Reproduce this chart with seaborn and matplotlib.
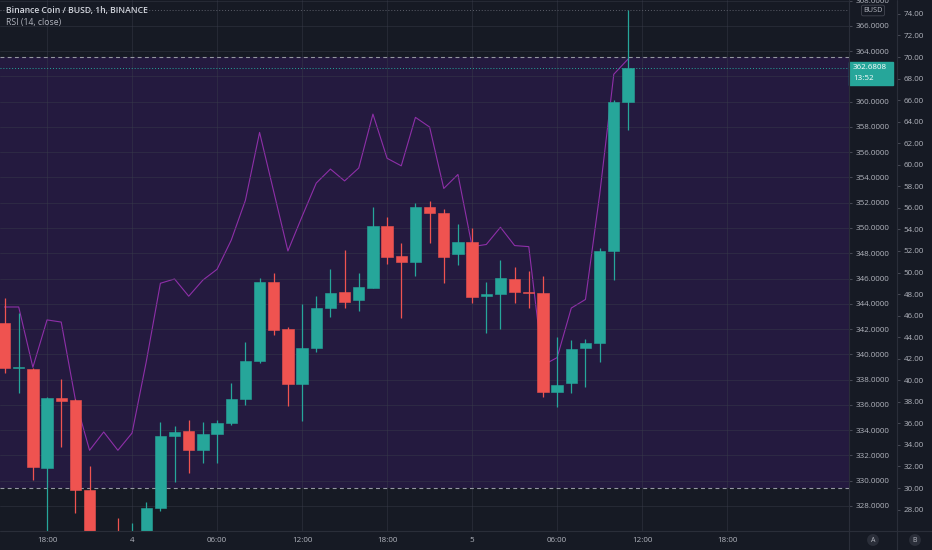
import numpy as np
import pandas as pd
import matplotlib
matplotlib.use("Agg")
import matplotlib.pyplot as plt
import seaborn as sns
from matplotlib.lines import Line2D
from matplotlib.patches import Rectangle
from matplotlib.ticker import MultipleLocator, FormatStrFormatter, FuncFormatter

# hourly candles, hour 0 = 18:00 on the 3rd
hours = list(range(-3, 42))

opens = [342.47, 338.90, 338.82, 330.98, 336.53, 336.37, 329.24, 324.60, 325.30, 324.70,
         325.40, 327.81, 333.52, 333.91, 332.41, 333.67, 334.55, 336.45, 339.46, 345.71,
         341.99, 337.63, 340.49, 343.65, 344.92, 344.29, 345.24, 350.15, 347.77, 347.30,
         351.65, 351.18, 347.93, 348.88, 344.60, 344.76, 345.95, 344.92, 344.84, 337.00,
         337.71, 340.49, 340.88, 348.17, 359.97]
highs = [344.45, 343.26, 338.90, 336.60, 338.03, 336.50, 331.16, 325.70, 327.02, 326.62,
         328.29, 334.63, 334.31, 334.78, 334.63, 334.78, 337.71, 340.96, 346.03, 346.43,
         342.15, 343.97, 344.60, 346.74, 348.25, 346.43, 351.65, 350.86, 348.80, 351.97,
         352.13, 351.50, 350.31, 349.99, 345.71, 347.46, 346.90, 346.58, 346.19, 341.36,
         341.12, 341.20, 348.41, 360.10, 367.26]
lows = [338.50, 336.92, 330.03, 325.40, 332.64, 327.42, 324.00, 323.90, 324.30, 324.20,
        325.00, 327.60, 329.87, 330.58, 331.38, 331.38, 334.39, 335.97, 339.30, 341.52,
        335.89, 334.70, 340.17, 342.94, 343.65, 343.42, 345.24, 347.14, 342.86, 346.19,
        348.80, 345.63, 347.06, 344.05, 341.67, 341.99, 344.05, 343.65, 336.60, 335.81,
        336.92, 337.40, 339.38, 345.87, 357.75]
closes = [338.90, 338.98, 331.06, 336.53, 336.29, 329.24, 324.60, 325.30, 324.70, 325.40,
          327.81, 333.52, 333.83, 332.41, 333.67, 334.55, 336.45, 339.46, 345.71, 341.91,
          337.63, 340.49, 343.65, 344.84, 344.13, 345.32, 350.15, 347.69, 347.30, 351.65,
          351.18, 347.69, 348.88, 344.53, 344.76, 346.03, 344.92, 344.84, 337.00, 337.55,
          340.41, 340.88, 348.17, 359.97, 362.6808]
rsi = [46.8, 46.8, 41.2, 45.6, 45.4, 38.2, 33.5, 35.2, 33.5, 35.1,
       41.7, 49.0, 49.4, 47.8, 49.3, 50.3, 53.0, 56.7, 63.0, 57.5,
       52.0, 55.2, 58.3, 59.6, 58.5, 59.7, 64.7, 60.6, 59.9, 64.4,
       63.5, 57.8, 59.1, 52.4, 52.6, 54.2, 52.5, 52.4, 41.4, 42.1,
       46.7, 47.5, 57.2, 68.4, 69.8]

time_ticks = [0, 6, 12, 18, 24, 30, 36, 42, 48]
time_labels = ["18:00", "4", "06:00", "12:00", "18:00", "5", "06:00", "12:00", "18:00"]
last_price = 362.6808
countdown = "13:52"

sns.set_style("dark")
plt.rcParams['font.family'] = ['Open Sans', 'DejaVu Sans']

W, H = 932, 550
BG = "#161a24"
BAND = "#241a3f"
UP = "#26a69a"
DOWN = "#ef5350"
RSI_C = "#8e2fa8"
TEXT = "#b2b5be"
GRID = "#3a3e4c"
SEP = "#2a2e39"
TICK = "#50535e"

df = pd.DataFrame({"hour": hours, "open": opens, "high": highs,
                   "low": lows, "close": closes, "rsi": rsi})
cols = np.where(df["close"] >= df["open"], UP, DOWN)

fig = plt.figure(figsize=(W / 100, H / 100), dpi=100, facecolor=BG)
ax_rsi = fig.add_axes([0, 19 / H, 849 / W, 531 / H])
ax_rsi.set_facecolor(BG)
ax = ax_rsi.twinx()

# RSI pane (behind the candles)
ax_rsi.axhspan(30, 70, color=BAND, lw=0, zorder=0.1)
for lvl in (30, 70):
    ax_rsi.axhline(lvl, color="#9598a1", lw=0.8, ls=(0, (3.5, 3.0)), zorder=1.5)
sns.lineplot(data=df, x="hour", y="rsi", ax=ax_rsi, color=RSI_C, lw=0.8, zorder=2)
ax_rsi.set_ylim(26.01, 75.29)
ax_rsi.set_xlim(-3.32, 56.6)
ax_rsi.set_xticks(time_ticks, time_labels)
ax_rsi.yaxis.tick_right()
ax_rsi.yaxis.set_major_locator(MultipleLocator(2))
ax_rsi.yaxis.set_major_formatter(FormatStrFormatter('%.2f'))
ax_rsi.spines['right'].set_position(('outward', 48 * 0.72))
ax_rsi.set_xlabel("")
ax_rsi.set_ylabel("")
ax_rsi.grid(axis='x', color=GRID, lw=0.6, alpha=0.5)
ax_rsi.grid(axis='y', visible=False)
ax_rsi.tick_params(axis='y', right=True, left=False, length=2.2, width=0.6, color=TICK,
                   pad=2.5, labelsize=5.8, labelcolor=TEXT)
ax_rsi.tick_params(axis='x', length=0, pad=4, labelsize=5.8, labelcolor=TEXT)

# price pane
ax.vlines(df["hour"], df["low"], df["high"], colors=cols, lw=0.9, zorder=2)
ax.bar(df["hour"], (df["close"] - df["open"]).abs(), bottom=df[["open", "close"]].min(axis=1),
       width=0.8, color=cols, edgecolor=cols, lw=0.4, zorder=3)
ax.axhline(last_price, color=UP, lw=0.7, ls=(0, (1, 2)), zorder=1)
ax.axhline(df["high"].max(), color="#5d606b", lw=0.7, ls=(0, (1, 2)), zorder=1)
ax.set_ylim(326.01, 368.05)
ax.yaxis.set_major_locator(MultipleLocator(2))
# the last-price tag hides the tick it sits on
ax.yaxis.set_major_formatter(FuncFormatter(
    lambda v, _: "" if abs(v - last_price) < 1.2 else f"{v:.4f}"))
ax.grid(axis='y', color=GRID, lw=0.6, alpha=0.5)
ax.tick_params(axis='y', length=2.2, width=0.6, color=TICK, pad=2.5,
               labelsize=5.8, labelcolor=TEXT)

for a in (ax, ax_rsi):
    for s in a.spines.values():
        s.set_visible(False)

# last price tag
trans = ax.get_yaxis_transform()
ax.add_patch(Rectangle((1.0, last_price - 1.36), 44 / 849, 1.82, transform=trans,
                       color=UP, clip_on=False, zorder=10))
ax.text(1.0 + 4 / 849, last_price, f"{last_price:.4f}", transform=trans, va='center',
        ha='left', color='white', fontsize=5.8, zorder=11, clip_on=False)
ax.text(1.0 + 4 / 849, last_price - 0.88, countdown, transform=trans, va='center',
        ha='left', color='white', fontsize=5.8, zorder=11, clip_on=False)

# pane separators
fig.add_artist(Line2D([849 / W] * 2, [0, 1], color=SEP, lw=0.8))
fig.add_artist(Line2D([897 / W] * 2, [0, 1], color=SEP, lw=0.8))
fig.add_artist(Line2D([0, 1], [19 / H] * 2, color=SEP, lw=0.8))

fig.text(6 / W, 1 - 11 / H, "Binance Coin / BUSD, 1h, BINANCE", color="#d1d4dc",
         fontsize=6.2, weight='semibold', va='center')
fig.text(6 / W, 1 - 23 / H, "RSI (14, close)", color=TEXT, fontsize=6.2, va='center')
fig.text(873 / W, 1 - 10.5 / H, "BUSD", ha='center', va='center', fontsize=5.3, color=TEXT,
         bbox=dict(boxstyle='round,pad=0.25', fc=BG, ec='#434651', lw=0.6))
for xp, lab in ((873, "A"), (915, "B")):
    fig.text(xp / W, 1 - 540 / H, lab, ha='center', va='center', fontsize=5, color=TEXT,
             bbox=dict(boxstyle='circle,pad=0.35', fc='#2a2e39', ec='none'))

fig.savefig("out.png", dpi=100, facecolor=BG)
